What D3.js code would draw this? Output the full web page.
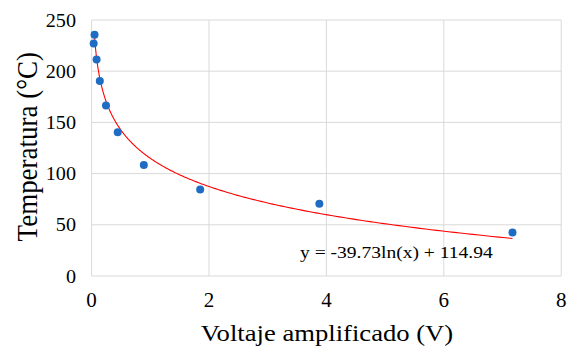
<!DOCTYPE html>
<html>
<head>
<meta charset="utf-8">
<script src="https://cdn.jsdelivr.net/npm/d3@7"></script>
<style>
  html, body { margin: 0; padding: 0; background: #fff; }
  svg { display: block; }
  svg text { font-family: "Liberation Serif", "Times New Roman", serif; fill: #000; }
</style>
</head>
<body>
<svg id="chart" width="572" height="348"></svg>
<script>
// Measured voltage (V) and temperature (°C)
const voltage = [0.05, 0.035, 0.085, 0.14, 0.245, 0.445, 0.89, 1.85, 3.88, 7.17];
const temperature = [235.5, 227, 211.5, 190.5, 166.5, 140.5, 108.5, 84.5, 70.5, 42.5];

// Logarithmic fit: y = a ln(x) + b
const fitA = -39.73;
const fitB = 114.94;
const fitRange = [0.05, 7.17];

const xTicks = [0, 2, 4, 6, 8];
const yTicks = [0, 50, 100, 150, 200, 250];

const svg = d3.select("#chart");
const x = d3.scaleLinear().domain([0, 8]).range([91.6, 561.2]);
const y = d3.scaleLinear().domain([0, 250]).range([276, 20]);

// Gridlines
svg.append("g").selectAll("line").data(xTicks).join("line")
  .attr("x1", d => x(d)).attr("x2", d => x(d))
  .attr("y1", y(0)).attr("y2", y(250))
  .attr("stroke", "#d9d9d9").attr("stroke-width", 1);
svg.append("g").selectAll("line").data(yTicks).join("line")
  .attr("x1", x(0)).attr("x2", x(8))
  .attr("y1", d => y(d)).attr("y2", d => y(d))
  .attr("stroke", "#d9d9d9").attr("stroke-width", 1);

// Tick labels (text is slightly widened horizontally)
svg.append("g").selectAll("text").data(xTicks).join("text")
  .attr("transform", d => `translate(${x(d)},306.5)`)
  .attr("text-anchor", "middle").attr("font-size", 21)
  .text(d3.format("d"));
svg.append("g").selectAll("text").data(yTicks).join("text")
  .attr("transform", d => `translate(76,${y(d) + 6.5}) scale(1.12,1)`)
  .attr("text-anchor", "end").attr("font-size", 18)
  .text(d3.format("d"));

// Fitted curve
const fitPts = d3.range(0, 301).map(i => {
  const xv = fitRange[0] * Math.pow(fitRange[1] / fitRange[0], i / 300);
  return [xv, fitA * Math.log(xv) + fitB];
});
svg.append("path").datum(fitPts)
  .attr("fill", "none").attr("stroke", "#ff0000").attr("stroke-width", 1.1)
  .attr("d", d3.line().x(d => x(d[0])).y(d => y(d[1])));

// Data points
svg.append("g").selectAll("circle").data(voltage.map((v, i) => [v, temperature[i]])).join("circle")
  .attr("cx", d => x(d[0])).attr("cy", d => y(d[1])).attr("r", 4)
  .attr("fill", "#1f6cc4");

// Equation label
svg.append("text").attr("transform", "translate(300,257.5) scale(1.15,1)")
  .attr("font-size", 17)
  .text(`y = ${fitA}ln(x) + ${fitB}`);

// Axis titles
svg.append("text").attr("transform", "translate(327,341) scale(1.11,1)")
  .attr("text-anchor", "middle").attr("font-size", 24)
  .text("Voltaje amplificado (V)");
svg.append("text").attr("transform", "translate(36.7,146.7) scale(1.12,1) rotate(-90)")
  .attr("text-anchor", "middle").attr("font-size", 27)
  .text("Temperatura (°C)");
</script>
</body>
</html>
